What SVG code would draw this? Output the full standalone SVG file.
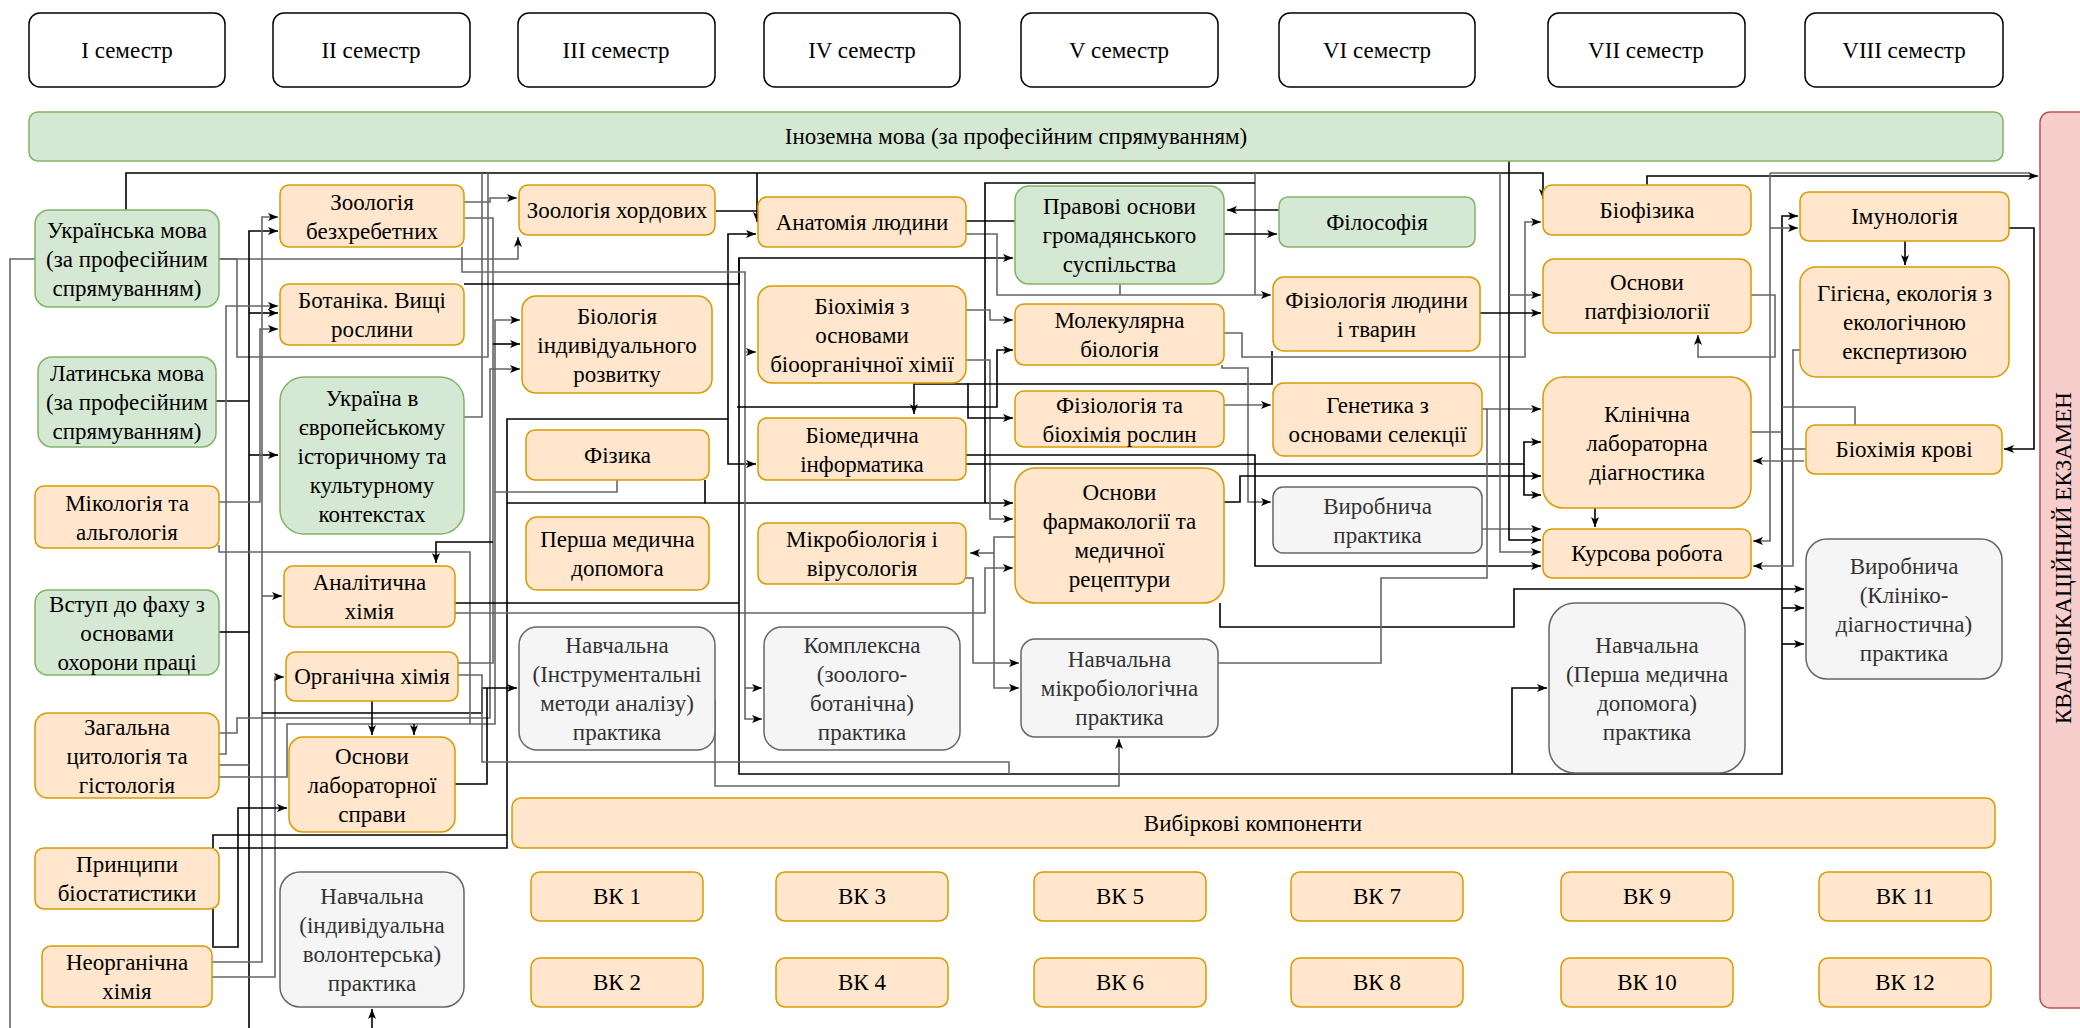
<svg xmlns="http://www.w3.org/2000/svg" width="2080" height="1028" viewBox="0 0 2080 1028" font-family="'Liberation Serif', 'DejaVu Serif', serif">
<defs>
<style>
.s{fill:#fff;stroke:#000;stroke-width:1.5}
.o{fill:#ffe6cc;stroke:#d79b00;stroke-width:1.5}
.gr{fill:#d5e8d4;stroke:#82b366;stroke-width:1.5}
.gy{fill:#f5f5f5;stroke:#666;stroke-width:1.5}
.rd{fill:#f8cecc;stroke:#b85450;stroke-width:1.5}
text{font-family:'Liberation Serif','Times New Roman','DejaVu Serif',serif;font-size:23px;text-anchor:middle;dominant-baseline:central;fill:#000}
.tg{fill:#333}
#connectors path{fill:none;stroke-width:1.6}
.k{stroke:#000}
.g{stroke:#666}
.k2{stroke:#000;stroke-width:2.6}
.a{marker-end:url(#arr)}
</style>
<marker id="arr" viewBox="0 0 10 8" refX="10" refY="4" markerWidth="10" markerHeight="8" markerUnits="userSpaceOnUse" orient="auto"><path d="M0,0 L10,4 L0,8 L2.5,4 z" fill="#000"/></marker>
</defs>
<rect width="2080" height="1028" fill="#fff"/>

<g id="connectors">
<path class="g" d="M35,259 H10 V1028"/>
<path class="k a" d="M126,210 V173 H1543 V199"/>
<path class="g a" d="M219,259 H518 V237"/>
<path class="g" d="M219,259 H237 V357 H488 V173"/>
<path class="k2" d="M216,401 H249"/>
<path class="k a" d="M249,1028 V231 H278"/>
<path class="k a" d="M249,313 H278"/>
<path class="k a" d="M249,455 H278"/>
<path class="g a" d="M219,754 H226 V306 H278"/>
<path class="g a" d="M219,502 H260 V329 H278"/>
<path class="g a" d="M212,962 H262 V217 H278"/>
<path class="g a" d="M262,596 H282"/>
<path class="g a" d="M212,977 H275 V677 H284"/>
<path class="k a" d="M212,947 H238 V808 H287"/>
<path class="k" d="M219,632 H249"/>
<path class="k a" d="M219,848 H507 V419 H728 V464 H756"/>
<path class="k a" d="M728,419 V234 H756"/>
<path class="k" d="M213,946 V835 H507"/>
<path class="g a" d="M219,733 H237 V718 H490 V369 H520"/>
<path class="g" d="M219,765 H249"/>
<path class="g a" d="M219,777 H287 V724 H495 V320 H520"/>
<path class="k a" d="M414,724 V735"/>
<path class="k a" d="M372,701 V735"/>
<path class="k a" d="M262,713 H482 V688 H517"/>
<path class="k" d="M455,784 H487 V688"/>
<path class="g a" d="M464,202 H490 V198 H517"/>
<path class="g" d="M458,663 H493 V218 H465"/>
<path class="k a" d="M493,344 H520"/>
<path class="g" d="M617,480 V492 H495"/>
<path class="k a" d="M705,480 V503 H1013"/>
<path class="k" d="M507,503 H705"/>
<path class="g" d="M219,545 V552 H470 V724"/>
<path class="k a" d="M493,542 H436 V563"/>
<path class="k" d="M455,603 H739"/>
<path class="g a" d="M455,613 H985 V568 H1013"/>
<path class="g" d="M464,417 H482 V173"/>
<path class="k a" d="M739,258 V774 H1782 V216 H1798"/>
<path class="k a" d="M464,284 H739 V258 H1013"/>
<path class="g a" d="M462,247 V272 H745 V719 H762"/>
<path class="g a" d="M745,352 H756"/>
<path class="g a" d="M745,688 H762"/>
<path class="k a" d="M716,211 H757 V222"/>
<path class="k" d="M757,173 V211"/>
<path class="k" d="M966,221 H1015"/>
<path class="g a" d="M966,234 H997 V295 H1271"/>
<path class="g" d="M1120,284 V295"/>
<path class="g" d="M1255,173 V295"/>
<path class="k" d="M985,503 V183 H1255"/>
<path class="k a" d="M1224,234 H1277"/>
<path class="k a" d="M1279,210 H1227"/>
<path class="g a" d="M966,310 H990 V320 H1013"/>
<path class="g a" d="M966,360 H990 V519 H1013"/>
<path class="k a" d="M737,407 H997 V350 H1013"/>
<path class="k a" d="M968,383 V418 H1013"/>
<path class="g a" d="M1015,537 H994 V688 H1019"/>
<path class="g a" d="M994,553 H970"/>
<path class="g a" d="M966,578 H973 V663 H1019"/>
<path class="k a" d="M1272,351 V384 H914 V414"/>
<path class="g a" d="M1224,405 H1271"/>
<path class="g a" d="M1224,333 H1242 V357 H1525 V222 H1541"/>
<path class="g a" d="M1222,365 V368 H1248 V502 H1271"/>
<path class="k a" d="M1224,502 H1240 V476 H1541"/>
<path class="k a" d="M966,464 H1524 V442 H1541"/>
<path class="k a" d="M1524,464 V495 H1541"/>
<path class="k a" d="M966,455 H1255 V566 H1541"/>
<path class="k a" d="M1220,603 V627 H1514 V589 H1804"/>
<path class="g a" d="M1218,663 H1381 V578 H1487 V409 H1541"/>
<path class="g" d="M1482,409 H1487"/>
<path class="g a" d="M1482,529 H1541"/>
<path class="k a" d="M1509,161 V540 H1541"/>
<path class="g a" d="M1500,173 V552 H1541"/>
<path class="g a" d="M1509,295 H1541"/>
<path class="k2 a" d="M1480,313 H1541"/>
<path class="g a" d="M1751,295 H1775 V357 H1698 V335"/>
<path class="k a" d="M1647,185 V176 H2038"/>
<path class="g a" d="M1770,173 V541 H1753"/>
<path class="g" d="M1770,173 H2030"/>
<path class="g a" d="M1770,228 H1798"/>
<path class="g a" d="M1800,350 H1793 V566 H1753"/>
<path class="k a" d="M2009,228 H2034 V449 H2004"/>
<path class="k a" d="M1905,241 V265"/>
<path class="g a" d="M1804,461 H1753"/>
<path class="g" d="M1855,425 V407 H1782"/>
<path class="g" d="M1806,449 H1782"/>
<path class="g" d="M1751,432 H1782"/>
<path class="k a" d="M1782,608 H1804"/>
<path class="k a" d="M1782,644 H1804"/>
<path class="k a" d="M1512,774 V688 H1547"/>
<path class="g" d="M458,675 H482 V762 H1009 V774"/>
<path class="g a" d="M715,700 V786 H1119 V739"/>
<path class="k a" d="M372,1028 V1009"/>
<path class="k a" d="M1595,508 V527"/>
</g>

<g id="sem1"><rect class="s" x="29" y="13" width="196" height="74" rx="11"/><text x="127" y="50">I семестр</text></g>
<g id="sem2"><rect class="s" x="273" y="13" width="197" height="74" rx="11"/><text x="371" y="50">II семестр</text></g>
<g id="sem3"><rect class="s" x="518" y="13" width="197" height="74" rx="11"/><text x="616" y="50">III семестр</text></g>
<g id="sem4"><rect class="s" x="764" y="13" width="196" height="74" rx="11"/><text x="862" y="50">IV семестр</text></g>
<g id="sem5"><rect class="s" x="1021" y="13" width="197" height="74" rx="11"/><text x="1119" y="50">V семестр</text></g>
<g id="sem6"><rect class="s" x="1279" y="13" width="196" height="74" rx="11"/><text x="1377" y="50">VI семестр</text></g>
<g id="sem7"><rect class="s" x="1548" y="13" width="197" height="74" rx="11"/><text x="1646" y="50">VII семестр</text></g>
<g id="sem8"><rect class="s" x="1805" y="13" width="198" height="74" rx="11"/><text x="1904" y="50">VIII семестр</text></g>

<g id="foreign"><rect class="gr" x="29" y="112" width="1974" height="49" rx="9"/><text x="1016" y="136.5">Іноземна мова (за професійним спрямуванням)</text></g>
<g id="exam"><rect class="rd" x="2040" y="112" width="60" height="896" rx="10"/><text x="2063" y="558" transform="rotate(-90 2063 558)">КВАЛІФІКАЦІЙНИЙ ЕКЗАМЕН</text></g>
<g id="elective"><rect class="o" x="512" y="798" width="1483" height="50" rx="9"/><text x="1253" y="823">Вибіркові компоненти</text></g>

<g id="n1"><rect class="gr" x="35" y="210" width="184" height="97" rx="14"/><text x="127"><tspan x="127" y="229.5">Українська мова</tspan><tspan x="127" y="258.5">(за професійним</tspan><tspan x="127" y="287.5">спрямуванням)</tspan></text></g>
<g id="n2"><rect class="gr" x="38" y="357" width="178" height="90" rx="14"/><text x="127"><tspan x="127" y="373">Латинська мова</tspan><tspan x="127" y="402">(за професійним</tspan><tspan x="127" y="431">спрямуванням)</tspan></text></g>
<g id="n3"><rect class="o" x="35" y="486" width="184" height="62" rx="9"/><text x="127"><tspan x="127" y="502.5">Мікологія та</tspan><tspan x="127" y="531.5">альгологія</tspan></text></g>
<g id="n4"><rect class="gr" x="35" y="590" width="184" height="85" rx="13"/><text x="127"><tspan x="127" y="603.5">Вступ до фаху з</tspan><tspan x="127" y="632.5">основами</tspan><tspan x="127" y="661.5">охорони праці</tspan></text></g>
<g id="n5"><rect class="o" x="35" y="713" width="184" height="85" rx="13"/><text x="127"><tspan x="127" y="726.5">Загальна</tspan><tspan x="127" y="755.5">цитологія та</tspan><tspan x="127" y="784.5">гістологія</tspan></text></g>
<g id="n6"><rect class="o" x="35" y="848" width="184" height="61" rx="9"/><text x="127"><tspan x="127" y="864">Принципи</tspan><tspan x="127" y="893">біостатистики</tspan></text></g>
<g id="n7"><rect class="o" x="42" y="946" width="170" height="61" rx="9"/><text x="127"><tspan x="127" y="962">Неорганічна</tspan><tspan x="127" y="991">хімія</tspan></text></g>

<g id="n8"><rect class="o" x="280" y="185" width="184" height="62" rx="9"/><text x="372"><tspan x="372" y="201.5">Зоологія</tspan><tspan x="372" y="230.5">безхребетних</tspan></text></g>
<g id="n9"><rect class="o" x="280" y="284" width="184" height="61" rx="9"/><text x="372"><tspan x="372" y="300">Ботаніка. Вищі</tspan><tspan x="372" y="329">рослини</tspan></text></g>
<g id="n10"><rect class="gr" x="280" y="377" width="184" height="157" rx="24"/><text x="372"><tspan x="372" y="397.5">Україна в</tspan><tspan x="372" y="426.5">європейському</tspan><tspan x="372" y="455.5">історичному та</tspan><tspan x="372" y="484.5">культурному</tspan><tspan x="372" y="513.5">контекстах</tspan></text></g>
<g id="n11"><rect class="o" x="284" y="566" width="171" height="61" rx="9"/><text x="369.5"><tspan x="369.5" y="582">Аналітична</tspan><tspan x="369.5" y="611">хімія</tspan></text></g>
<g id="n12"><rect class="o" x="286" y="652" width="172" height="49" rx="9"/><text x="372" y="676.5">Органічна хімія</text></g>
<g id="n13"><rect class="o" x="289" y="737" width="166" height="95" rx="14"/><text x="372"><tspan x="372" y="755.5">Основи</tspan><tspan x="372" y="784.5">лабораторної</tspan><tspan x="372" y="813.5">справи</tspan></text></g>
<g id="n14"><rect class="gy" x="280" y="872" width="184" height="135" rx="20"/><text class="tg" x="372"><tspan x="372" y="896">Навчальна</tspan><tspan x="372" y="925">(індивідуальна</tspan><tspan x="372" y="954">волонтерська)</tspan><tspan x="372" y="983">практика</tspan></text></g>

<g id="n15"><rect class="o" x="519" y="185" width="196" height="50" rx="9"/><text x="617" y="210">Зоологія хордових</text></g>
<g id="n16"><rect class="o" x="522" y="296" width="190" height="97" rx="14"/><text x="617"><tspan x="617" y="315.5">Біологія</tspan><tspan x="617" y="344.5">індивідуального</tspan><tspan x="617" y="373.5">розвитку</tspan></text></g>
<g id="n17"><rect class="o" x="526" y="430" width="183" height="50" rx="9"/><text x="617.5" y="455">Фізика</text></g>
<g id="n18"><rect class="o" x="526" y="517" width="183" height="73" rx="11"/><text x="617.5"><tspan x="617.5" y="539">Перша медична</tspan><tspan x="617.5" y="568">допомога</tspan></text></g>
<g id="n19"><rect class="gy" x="519" y="627" width="196" height="123" rx="18"/><text class="tg" x="617"><tspan x="617" y="645">Навчальна</tspan><tspan x="617" y="674">(Інструментальні</tspan><tspan x="617" y="703">методи аналізу)</tspan><tspan x="617" y="732">практика</tspan></text></g>

<g id="n20"><rect class="o" x="758" y="197" width="208" height="50" rx="9"/><text x="862" y="222">Анатомія людини</text></g>
<g id="n21"><rect class="o" x="758" y="286" width="208" height="97" rx="14"/><text x="862"><tspan x="862" y="305.5">Біохімія з</tspan><tspan x="862" y="334.5">основами</tspan><tspan x="862" y="363.5">біоорганічної хімії</tspan></text></g>
<g id="n22"><rect class="o" x="758" y="418" width="208" height="62" rx="9"/><text x="862"><tspan x="862" y="434.5">Біомедична</tspan><tspan x="862" y="463.5">інформатика</tspan></text></g>
<g id="n23"><rect class="o" x="758" y="523" width="208" height="61" rx="9"/><text x="862"><tspan x="862" y="539">Мікробіологія і</tspan><tspan x="862" y="568">вірусологія</tspan></text></g>
<g id="n24"><rect class="gy" x="764" y="627" width="196" height="123" rx="18"/><text class="tg" x="862"><tspan x="862" y="645">Комплексна</tspan><tspan x="862" y="674">(зоолого-</tspan><tspan x="862" y="703">ботанічна)</tspan><tspan x="862" y="732">практика</tspan></text></g>

<g id="n25"><rect class="gr" x="1015" y="186" width="209" height="98" rx="14"/><text x="1119.5"><tspan x="1119.5" y="206">Правові основи</tspan><tspan x="1119.5" y="235">громадянського</tspan><tspan x="1119.5" y="264">суспільства</tspan></text></g>
<g id="n26"><rect class="o" x="1015" y="304" width="209" height="61" rx="9"/><text x="1119.5"><tspan x="1119.5" y="320">Молекулярна</tspan><tspan x="1119.5" y="349">біологія</tspan></text></g>
<g id="n27"><rect class="o" x="1015" y="391" width="209" height="56" rx="9"/><text x="1119.5"><tspan x="1119.5" y="404.5">Фізіологія та</tspan><tspan x="1119.5" y="433.5">біохімія рослин</tspan></text></g>
<g id="n28"><rect class="o" x="1015" y="468" width="209" height="135" rx="20"/><text x="1119.5"><tspan x="1119.5" y="492">Основи</tspan><tspan x="1119.5" y="521">фармакології та</tspan><tspan x="1119.5" y="550">медичної</tspan><tspan x="1119.5" y="579">рецептури</tspan></text></g>
<g id="n29"><rect class="gy" x="1021" y="639" width="197" height="98" rx="14"/><text class="tg" x="1119.5"><tspan x="1119.5" y="659">Навчальна</tspan><tspan x="1119.5" y="688">мікробіологічна</tspan><tspan x="1119.5" y="717">практика</tspan></text></g>

<g id="n30"><rect class="gr" x="1279" y="197" width="196" height="50" rx="9"/><text x="1377" y="222">Філософія</text></g>
<g id="n31"><rect class="o" x="1273" y="277" width="207" height="74" rx="11"/><text x="1376.5"><tspan x="1376.5" y="299.5">Фізіологія людини</tspan><tspan x="1376.5" y="328.5">і тварин</tspan></text></g>
<g id="n32"><rect class="o" x="1273" y="383" width="209" height="73" rx="11"/><text x="1377.5"><tspan x="1377.5" y="405">Генетика з</tspan><tspan x="1377.5" y="434">основами селекції</tspan></text></g>
<g id="n33"><rect class="gy" x="1273" y="487" width="209" height="66" rx="10"/><text class="tg" x="1377.5"><tspan x="1377.5" y="505.5">Виробнича</tspan><tspan x="1377.5" y="534.5">практика</tspan></text></g>

<g id="n34"><rect class="o" x="1543" y="185" width="208" height="50" rx="9"/><text x="1647" y="210">Біофізика</text></g>
<g id="n35"><rect class="o" x="1543" y="259" width="208" height="74" rx="11"/><text x="1647"><tspan x="1647" y="281.5">Основи</tspan><tspan x="1647" y="310.5">патфізіології</tspan></text></g>
<g id="n36"><rect class="o" x="1543" y="377" width="208" height="131" rx="20"/><text x="1647"><tspan x="1647" y="413.5">Клінічна</tspan><tspan x="1647" y="442.5">лабораторна</tspan><tspan x="1647" y="471.5">діагностика</tspan></text></g>
<g id="n37"><rect class="o" x="1543" y="529" width="208" height="49" rx="9"/><text x="1647" y="553.5">Курсова робота</text></g>
<g id="n38"><rect class="gy" x="1549" y="603" width="196" height="170" rx="26"/><text class="tg" x="1647"><tspan x="1647" y="644.5">Навчальна</tspan><tspan x="1647" y="673.5">(Перша медична</tspan><tspan x="1647" y="702.5">допомога)</tspan><tspan x="1647" y="731.5">практика</tspan></text></g>

<g id="n39"><rect class="o" x="1800" y="192" width="209" height="49" rx="9"/><text x="1904.5" y="216.5">Імунологія</text></g>
<g id="n40"><rect class="o" x="1800" y="267" width="209" height="110" rx="16"/><text x="1904.5"><tspan x="1904.5" y="293">Гігієна, екологія з</tspan><tspan x="1904.5" y="322">екологічною</tspan><tspan x="1904.5" y="351">експертизою</tspan></text></g>
<g id="n41"><rect class="o" x="1806" y="425" width="196" height="49" rx="9"/><text x="1904" y="449.5">Біохімія крові</text></g>
<g id="n42"><rect class="gy" x="1806" y="539" width="196" height="140" rx="21"/><text class="tg" x="1904"><tspan x="1904" y="565.5">Виробнича</tspan><tspan x="1904" y="594.5">(Клініко-</tspan><tspan x="1904" y="623.5">діагностична)</tspan><tspan x="1904" y="652.5">практика</tspan></text></g>

<g id="vk1"><rect class="o" x="531" y="872" width="172" height="49" rx="9"/><text x="617" y="896.5">ВК 1</text></g>
<g id="vk2"><rect class="o" x="531" y="958" width="172" height="49" rx="9"/><text x="617" y="982.5">ВК 2</text></g>
<g id="vk3"><rect class="o" x="776" y="872" width="172" height="49" rx="9"/><text x="862" y="896.5">ВК 3</text></g>
<g id="vk4"><rect class="o" x="776" y="958" width="172" height="49" rx="9"/><text x="862" y="982.5">ВК 4</text></g>
<g id="vk5"><rect class="o" x="1034" y="872" width="172" height="49" rx="9"/><text x="1120" y="896.5">ВК 5</text></g>
<g id="vk6"><rect class="o" x="1034" y="958" width="172" height="49" rx="9"/><text x="1120" y="982.5">ВК 6</text></g>
<g id="vk7"><rect class="o" x="1291" y="872" width="172" height="49" rx="9"/><text x="1377" y="896.5">ВК 7</text></g>
<g id="vk8"><rect class="o" x="1291" y="958" width="172" height="49" rx="9"/><text x="1377" y="982.5">ВК 8</text></g>
<g id="vk9"><rect class="o" x="1561" y="872" width="172" height="49" rx="9"/><text x="1647" y="896.5">ВК 9</text></g>
<g id="vk10"><rect class="o" x="1561" y="958" width="172" height="49" rx="9"/><text x="1647" y="982.5">ВК 10</text></g>
<g id="vk11"><rect class="o" x="1819" y="872" width="172" height="49" rx="9"/><text x="1905" y="896.5">ВК 11</text></g>
<g id="vk12"><rect class="o" x="1819" y="958" width="172" height="49" rx="9"/><text x="1905" y="982.5">ВК 12</text></g>
</svg>
